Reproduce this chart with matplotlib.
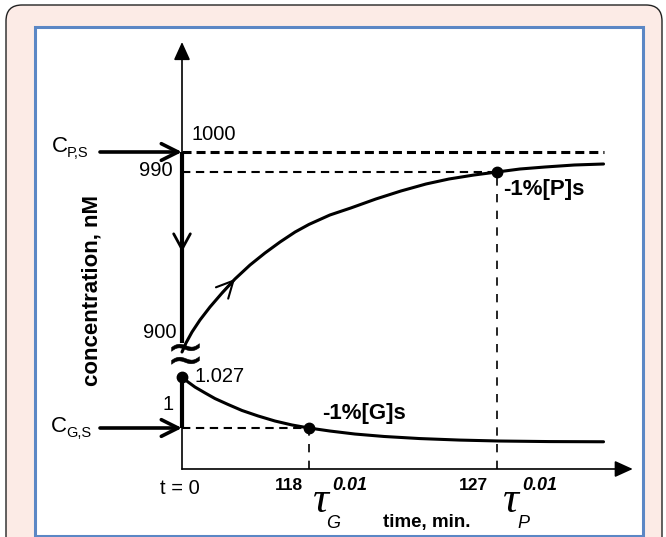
import numpy as np
import matplotlib
matplotlib.use("Agg")
import matplotlib.pyplot as plt
from matplotlib.patches import FancyBboxPatch, Rectangle

plt.rcParams["font.family"] = ["Liberation Sans", "DejaVu Sans"]
plt.rcParams["lines.scale_dashes"] = False

# ── data (schematic axes) ────────────────────────────────────
p_time = [0, 3.7, 9.3, 16.7, 26.0, 37.2, 49.2, 63.2, 77.1, 91.1, 105.1,
          118.0, 119.0, 120.0, 121.2, 122.4, 123.6, 124.7, 125.9, 127.0,
          128.1, 129.3, 130.7, 132.1]
p_conc = [900, 904.5, 910, 916, 922.5, 929.5, 936.5, 943.5, 949.5, 955, 960,
          963.8, 968.5, 972, 976.5, 980.5, 984, 986.5, 988.5, 990,
          991.5, 992.5, 993.5, 994]
g_time = [0, 5.6, 12.1, 21.4, 30.7, 42.7, 55.7, 70.6, 86.4, 102.2, 118.0,
          119.0, 120.2, 121.6, 123.3, 125.2, 127.1, 129.5, 132.1]
g_conc = [1.027, 1.0244, 1.0217, 1.0186, 1.0156, 1.0125, 1.0093, 1.0064,
          1.0037, 1.0016, 1.0, 0.9984, 0.9968, 0.9955, 0.9944, 0.9936,
          0.9931, 0.9928, 0.9927]

c_ps, c_gs = 1000, 1.0          # steady-state levels
p_level, g_level = 990, 1.0     # -1 % levels
tau_p, tau_g = 127, 118         # min
y_labels = ["1000", "990", "900", "1.027", "1"]

# ── piecewise (broken) scales ────────────────────────────────
W, H = 666, 537
X0, Y0 = 182, 469               # origin in pixels
xk_t, xk_s = [0, 118, 127], [0, 127, 315]
yk_c, yk_s = [1.0, 1.035, 897, 1000], [41, 107, 111, 317]
c_axis = 0.97826                # concentration at the time axis


def pw(v, xp, fp):
    v = np.asarray(v, float)
    out = np.interp(v, xp, fp)
    lo_s = (fp[1] - fp[0]) / (xp[1] - xp[0])
    hi_s = (fp[-1] - fp[-2]) / (xp[-1] - xp[-2])
    out = np.where(v < xp[0], fp[0] + (v - xp[0]) * lo_s, out)
    out = np.where(v > xp[-1], fp[-1] + (v - xp[-1]) * hi_s, out)
    return out


fx = lambda v: pw(v, xk_t, xk_s)
ix = lambda v: pw(v, xk_s, xk_t)
fy = lambda v: pw(v, yk_c, yk_s)
iy = lambda v: pw(v, yk_s, yk_c)

fig = plt.figure(figsize=(W / 100, H / 100), dpi=100)

# frame: pink rounded card + blue box (pixel coords)
fig.patches.append(FancyBboxPatch((6, -20), 656, H - 5 + 20,
                                  boxstyle="round,pad=0,rounding_size=16",
                                  transform=None, facecolor="#fcebe6",
                                  edgecolor="#222222", lw=1.0, zorder=-3))
fig.patches.append(Rectangle((35, H - 536), 608, 536 - 27, transform=None,
                             facecolor="white", edgecolor="#5b87c5",
                             lw=2.2, zorder=-2))

ax = fig.add_axes([0, 0, 1, 1])
ax.set_facecolor("none")
ax.set_xscale("function", functions=(fx, ix))
ax.set_yscale("function", functions=(fy, iy))
ax.set_xlim(float(ix(-X0)), float(ix(W - X0)))
ax.set_ylim(float(iy(Y0 - H)), float(iy(Y0)))
ax.axis("off")

K = "black"
t_end = 133.5
c_top = 1055

# axes
head = "-|>,head_length=0.55,head_width=0.25"
ax.annotate("", xy=(t_end, c_axis), xytext=(0, c_axis),
            arrowprops=dict(arrowstyle=head, color=K, lw=1.2,
                            mutation_scale=20, shrinkA=0, shrinkB=0))
ax.annotate("", xy=(0, c_top), xytext=(0, c_ps),
            arrowprops=dict(arrowstyle=head, color=K, lw=1.2,
                            mutation_scale=20, shrinkA=0, shrinkB=0))
ax.plot([0, 0], [c_axis, c_gs], color=K, lw=1.2)
ax.plot([0, 0], [c_gs, g_conc[0]], color=K, lw=3.0, solid_capstyle="butt")
ax.plot([0, 0], [904.5, c_ps], color=K, lw=3.0, solid_capstyle="butt")
ax.annotate("", xy=(0, 950), xytext=(0, 962),
            arrowprops=dict(arrowstyle="->,head_length=0.55,head_width=0.3",
                            color=K, lw=2.0, mutation_scale=20,
                            shrinkA=0, shrinkB=0))
# axis break marks (two tildes)
ax.plot([2.8, 2.8], [902.5, 449], ls="none", marker="$\\sim$", ms=20,
        color=K, mew=0.4, clip_on=False)

# dashed guides
ax.plot([0, p_time[-1]], [c_ps, c_ps], color=K, lw=2.2, dashes=(6.5, 3.6))
ax.plot([0, tau_p], [p_level, p_level], color=K, lw=1.5, dashes=(6, 4))
ax.plot([0, tau_g], [g_level, g_level], color=K, lw=1.5, dashes=(6, 4))
ax.plot([tau_p, tau_p], [c_axis, p_level], color=K, lw=1.2, dashes=(6, 6))
ax.plot([tau_g, tau_g], [c_axis, g_level], color=K, lw=1.2, dashes=(6, 6))

# curves
ax.plot(p_time, p_conc, color=K, lw=2.2, solid_capstyle="round",
        solid_joinstyle="round")
ax.plot(g_time, g_conc, color=K, lw=2.2, solid_capstyle="round",
        solid_joinstyle="round")
ax.annotate("", xy=(p_time[6], p_conc[6]), xytext=(p_time[5], p_conc[5]),
            arrowprops=dict(arrowstyle="->,head_length=0.6,head_width=0.3",
                            color=K, lw=1.5, mutation_scale=20,
                            shrinkA=0, shrinkB=0))

# dots
ax.plot([0, tau_g, tau_p], [g_conc[0], g_level, p_level], "o",
        color=K, ms=7.5, zorder=5)

# C_P,S and C_G,S arrows
for c in (c_ps, c_gs):
    ax.annotate("", xy=(0, c), xytext=(float(ix(100 - X0)), c),
                arrowprops=dict(arrowstyle="->,head_length=0.6,head_width=0.3",
                                color=K, lw=2.6, mutation_scale=20,
                                shrinkA=0, shrinkB=0))


def T(x, y, s, **kw):
    fig.text(x / W, 1 - y / H, s, **kw)


# y labels
T(214, 134, y_labels[0], ha="center", va="center", fontsize=14.5)
T(173, 171, y_labels[1], ha="right", va="center", fontsize=14.5)
T(176, 332, y_labels[2], ha="right", va="center", fontsize=14.5)
T(195, 377, y_labels[3], ha="left", va="center", fontsize=14.5)
T(168, 404, y_labels[4], ha="center", va="center", fontsize=14.5)

T(52, 146, "C", ha="left", va="center", fontsize=16)
T(67, 153, "P,S", ha="left", va="center", fontsize=10.5)
T(51, 426, "C", ha="left", va="center", fontsize=16)
T(66, 433, "G,S", ha="left", va="center", fontsize=10.5)

T(92, 290, "concentration, nM", rotation=90, ha="center", va="center",
  fontsize=16, fontweight="bold")

T(180, 488, "t = 0", ha="center", va="center", fontsize=14.5)
T(289, 485, str(tau_g), ha="center", va="center", fontsize=12.5,
  fontweight="bold")
T(473, 485, str(tau_p), ha="center", va="center", fontsize=12.5,
  fontweight="bold")
for xc, sub in ((320, "G"), (510, "P")):
    T(xc, 501, "τ", ha="center", va="center", fontsize=32,
      family="Liberation Serif", style="italic")
    T(xc + 12, 486, "0.01", ha="left", va="center", fontsize=13,
      fontweight="bold", style="italic")
    T(xc + 13, 524, sub, ha="center", va="center", fontsize=13,
      style="italic")
T(427, 522, "time, min.", ha="center", va="center", fontsize=13.5,
  fontweight="bold")

T(364, 413, "-1%[G]s", ha="center", va="center", fontsize=16,
  fontweight="bold")
T(503, 189, "-1%[P]s", ha="left", va="center", fontsize=16,
  fontweight="bold")

fig.savefig("out.png", dpi=100)
